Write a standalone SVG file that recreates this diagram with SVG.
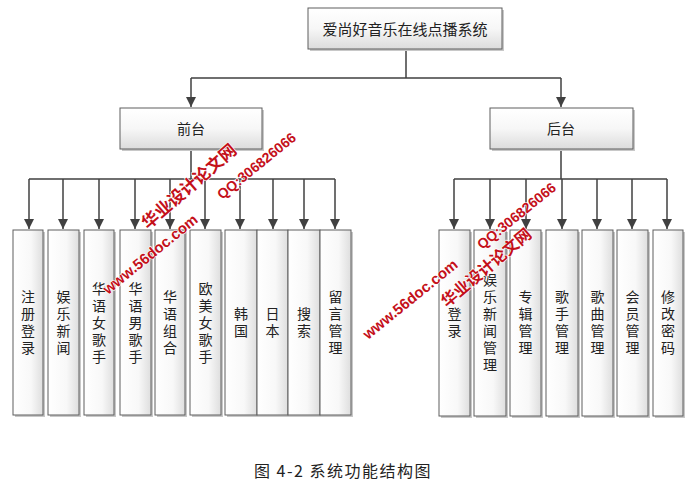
<svg xmlns="http://www.w3.org/2000/svg" width="692" height="490" viewBox="0 0 692 490">
<defs>
<linearGradient id="gv" x1="0" y1="0" x2="0" y2="1">
<stop offset="0" stop-color="#ffffff"/><stop offset="0.5" stop-color="#f7f7f7"/><stop offset="1" stop-color="#dcdcdc"/>
</linearGradient>
<linearGradient id="gh" x1="0" y1="0" x2="1" y2="0">
<stop offset="0" stop-color="#ffffff"/><stop offset="0.6" stop-color="#f8f8f8"/><stop offset="1" stop-color="#dedede"/>
</linearGradient>
<marker id="arr" viewBox="0 0 10 10" refX="10" refY="5" markerWidth="10" markerHeight="10" markerUnits="userSpaceOnUse" orient="auto">
<path d="M0,0 L10,5 L0,10 Z" fill="#404040"/>
</marker>
<style>
.sh{fill:#c8c8c8}
.bh{fill:url(#gv);stroke:#5e5e5e;stroke-width:1}
.bv{fill:url(#gh);stroke:#5e5e5e;stroke-width:1}
.t{font-family:"Noto Sans CJK SC","Microsoft YaHei",sans-serif;font-size:14px;fill:#222;text-anchor:middle}
.v{font-family:"Noto Sans CJK SC","Microsoft YaHei",sans-serif;font-size:14px;fill:#222;text-anchor:middle;writing-mode:vertical-rl;letter-spacing:3px}
.ln{fill:none;stroke:#404040;stroke-width:1.5}
.wm{font-family:"Liberation Sans",Arial,sans-serif;font-weight:bold;fill:#c4101a;stroke:#ffffff;stroke-width:1.2;paint-order:stroke}
.wc{font-family:"Noto Sans CJK SC",sans-serif;font-weight:bold;fill:#c4101a;stroke:#ffffff;stroke-width:1.2;paint-order:stroke}
</style>
</defs>
<rect width="692" height="490" fill="#ffffff"/>

<g id="connectors">
<path class="ln" d="M406,49 V78 M191,78 H561"/>
<path class="ln" d="M191,78 V107" marker-end="url(#arr)"/>
<path class="ln" d="M561,78 V107" marker-end="url(#arr)"/>
<path class="ln" d="M191,149 V179 M29,179 H335"/>
<path class="ln" d="M29,179 V229" marker-end="url(#arr)"/>
<path class="ln" d="M63,179 V229" marker-end="url(#arr)"/>
<path class="ln" d="M99,179 V229" marker-end="url(#arr)"/>
<path class="ln" d="M135,179 V229" marker-end="url(#arr)"/>
<path class="ln" d="M170,179 V229" marker-end="url(#arr)"/>
<path class="ln" d="M205,179 V229" marker-end="url(#arr)"/>
<path class="ln" d="M240,179 V229" marker-end="url(#arr)"/>
<path class="ln" d="M273,179 V229" marker-end="url(#arr)"/>
<path class="ln" d="M304,179 V229" marker-end="url(#arr)"/>
<path class="ln" d="M335,179 V229" marker-end="url(#arr)"/>
<path class="ln" d="M561,149 V179 M454,179 H667"/>
<path class="ln" d="M454,179 V229" marker-end="url(#arr)"/>
<path class="ln" d="M490,179 V229" marker-end="url(#arr)"/>
<path class="ln" d="M526,179 V229" marker-end="url(#arr)"/>
<path class="ln" d="M562,179 V229" marker-end="url(#arr)"/>
<path class="ln" d="M597,179 V229" marker-end="url(#arr)"/>
<path class="ln" d="M632,179 V229" marker-end="url(#arr)"/>
<path class="ln" d="M667,179 V229" marker-end="url(#arr)"/>
</g>

<g id="root">
<rect class="sh" x="310" y="10" width="194" height="41"/>
<rect class="bh" x="308" y="8" width="194" height="41"/>
<text class="t" x="405" y="35" style="font-size:15px">爱尚好音乐在线点播系统</text>
</g>
<g id="qiantai">
<rect class="sh" x="122" y="110" width="142" height="41"/>
<rect class="bh" x="120" y="108" width="142" height="41"/>
<text class="t" x="191" y="134">前台</text>
</g>
<g id="houtai">
<rect class="sh" x="492" y="110" width="143" height="41"/>
<rect class="bh" x="490" y="108" width="143" height="41"/>
<text class="t" x="561" y="134">后台</text>
</g>

<g id="f1"><rect class="sh" x="15" y="232" width="30" height="185"/><rect class="bv" x="13" y="230" width="30" height="185"/><text class="v" x="28" y="324">注册登录</text></g>
<g id="f2"><rect class="sh" x="50" y="232" width="31" height="185"/><rect class="bv" x="48" y="230" width="31" height="185"/><text class="v" x="63.5" y="324">娱乐新闻</text></g>
<g id="f3"><rect class="sh" x="86" y="232" width="30" height="185"/><rect class="bv" x="84" y="230" width="30" height="185"/><text class="v" x="99" y="324">华语女歌手</text></g>
<g id="f4"><rect class="sh" x="122" y="232" width="31" height="185"/><rect class="bv" x="120" y="230" width="31" height="185"/><text class="v" x="135.5" y="324">华语男歌手</text></g>
<g id="f5"><rect class="sh" x="157" y="232" width="30" height="185"/><rect class="bv" x="155" y="230" width="30" height="185"/><text class="v" x="170" y="324">华语组合</text></g>
<g id="f6"><rect class="sh" x="192" y="232" width="31" height="185"/><rect class="bv" x="190" y="230" width="31" height="185"/><text class="v" x="205.5" y="324">欧美女歌手</text></g>
<g id="f7"><rect class="sh" x="227" y="232" width="32" height="185"/><rect class="bv" x="225" y="230" width="32" height="185"/><text class="v" x="241" y="324">韩国</text></g>
<g id="f8"><rect class="sh" x="259" y="232" width="31" height="185"/><rect class="bv" x="257" y="230" width="31" height="185"/><text class="v" x="272.5" y="324">日本</text></g>
<g id="f9"><rect class="sh" x="290" y="232" width="32" height="185"/><rect class="bv" x="288" y="230" width="32" height="185"/><text class="v" x="304" y="324">搜索</text></g>
<g id="f10"><rect class="sh" x="322" y="232" width="31" height="185"/><rect class="bv" x="320" y="230" width="31" height="185"/><text class="v" x="335.5" y="324">留言管理</text></g>

<g id="b1"><rect class="sh" x="441" y="232" width="31" height="186"/><rect class="bv" x="439" y="230" width="31" height="186"/><text class="v" x="454.5" y="324">登录</text></g>
<g id="b2"><rect class="sh" x="476" y="232" width="32" height="186"/><rect class="bv" x="474" y="230" width="32" height="186"/><text class="v" x="490" y="324">娱乐新闻管理</text></g>
<g id="b3"><rect class="sh" x="512" y="232" width="31" height="186"/><rect class="bv" x="510" y="230" width="31" height="186"/><text class="v" x="525.5" y="324">专辑管理</text></g>
<g id="b4"><rect class="sh" x="548" y="232" width="32" height="186"/><rect class="bv" x="546" y="230" width="32" height="186"/><text class="v" x="562" y="324">歌手管理</text></g>
<g id="b5"><rect class="sh" x="584" y="232" width="31" height="186"/><rect class="bv" x="582" y="230" width="31" height="186"/><text class="v" x="597.5" y="324">歌曲管理</text></g>
<g id="b6"><rect class="sh" x="619" y="232" width="31" height="186"/><rect class="bv" x="617" y="230" width="31" height="186"/><text class="v" x="632.5" y="324">会员管理</text></g>
<g id="b7"><rect class="sh" x="655" y="232" width="30" height="186"/><rect class="bv" x="653" y="230" width="30" height="186"/><text class="v" x="668" y="324">修改密码</text></g>

<g id="caption">
<text x="343" y="477" style="font-family:'Noto Sans CJK SC',sans-serif;font-size:16px;letter-spacing:1.5px;fill:#222;text-anchor:middle">图 4-2 系统功能结构图</text>
</g>

<g id="watermarks">
<text class="wc" x="148" y="230" font-size="17" transform="rotate(-41 148 230)">华业设计论文网</text>
<text class="wm" x="222" y="200" font-size="14" transform="rotate(-39 222 200)">QQ:306826066</text>
<text class="wm" x="108" y="295" font-size="15" transform="rotate(-39 108 295)">www.56doc.com</text>
<text class="wm" x="368" y="340" font-size="15" transform="rotate(-39 368 340)">www.56doc.com</text>
<text class="wm" x="482" y="250" font-size="14" transform="rotate(-39 482 250)">QQ:306826066</text>
<text class="wc" x="447" y="308" font-size="16" transform="rotate(-40 447 308)">华业设计论文网</text>
</g>
</svg>
